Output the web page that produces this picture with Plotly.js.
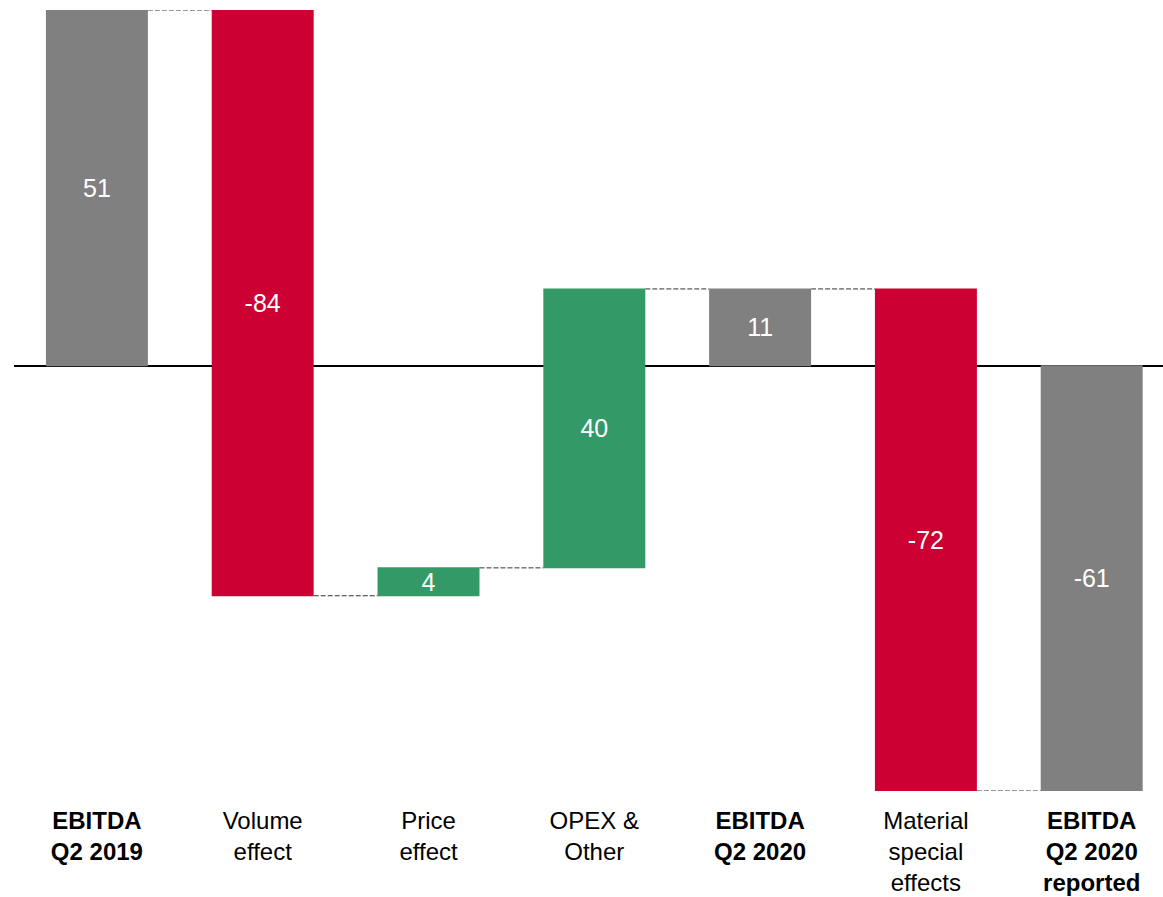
<!DOCTYPE html>
<html>
<head>
<meta charset="utf-8">
<script src="https://cdn.plot.ly/plotly-3.0.1.min.js"></script>
<style>
  html, body { margin: 0; padding: 0; background: #ffffff; }
  #chart { width: 1163px; height: 897px; }
</style>
</head>
<body>
<div id="chart"></div>
<script>
// Data
const categories = [
  "<b>EBITDA<br>Q2 2019</b>",
  "Volume<br>effect",
  "Price<br>effect",
  "OPEX &<br>Other",
  "<b>EBITDA<br>Q2 2020</b>",
  "Material<br>special<br>effects",
  "<b>EBITDA<br>Q2 2020<br>reported</b>"
];
const values = [51, -84, 4, 40, 11, -72, -61];
const measures = ["absolute", "relative", "relative", "relative", "total", "relative", "total"];
const labels = values.map(v => String(v));

const trace = {
  type: "waterfall",
  x: categories,
  y: values,
  measure: measures,
  text: labels,
  textposition: "inside",
  insidetextanchor: "middle",
  textangle: 0,
  constraintext: "none",
  textfont: { family: "Liberation Sans, Arial, sans-serif", size: 25, color: "#ffffff" },
  increasing: { marker: { color: "#339966" } },
  decreasing: { marker: { color: "#CC0033" } },
  totals: { marker: { color: "#808080" } },
  connector: { mode: "between", line: { color: "#333333", width: 1, dash: "5px,2px" } },
  hoverinfo: "none"
};

const layout = {
  width: 1163,
  height: 897,
  margin: { l: 14, r: 0, t: 10, b: 106 },
  paper_bgcolor: "#ffffff",
  plot_bgcolor: "#ffffff",
  showlegend: false,
  waterfallgap: 0.385,
  font: { family: "Liberation Sans, Arial, sans-serif", size: 24, color: "#000000" },
  xaxis: {
    type: "category",
    range: [-0.5, 6.43],
    showgrid: false,
    showline: false,
    zeroline: false,
    ticks: "",
    ticklabelstandoff: 13,
    tickfont: { family: "Liberation Sans, Arial, sans-serif", size: 24, color: "#000000" },
    automargin: false
  },
  yaxis: {
    range: [-61, 51],
    showgrid: false,
    showline: false,
    showticklabels: false,
    ticks: "",
    zeroline: true,
    zerolinecolor: "#000000",
    zerolinewidth: 2,
    automargin: false
  }
};

Plotly.newPlot("chart", [trace], layout, { displayModeBar: false, staticPlot: true });
</script>
</body>
</html>
